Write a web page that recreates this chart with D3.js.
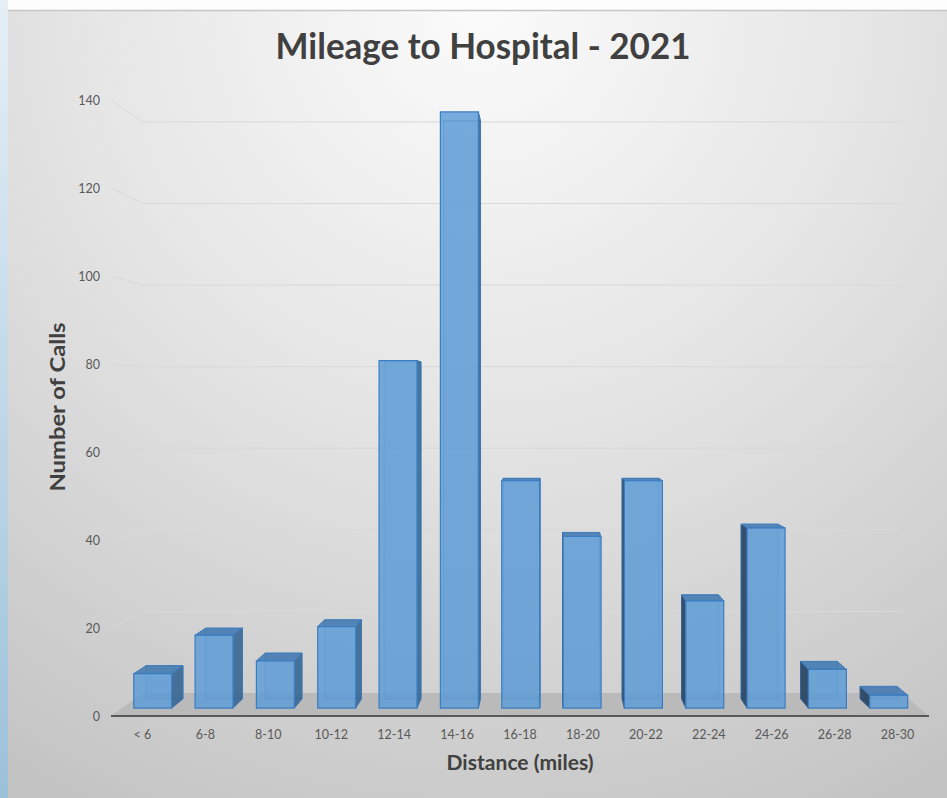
<!DOCTYPE html>
<html>
<head>
<meta charset="utf-8">
<script src="https://cdn.jsdelivr.net/npm/d3@7"></script>
<style>
  html, body { margin: 0; padding: 0; background: #fff; }
  svg { display: block; }
</style>
</head>
<body>
<svg id="chart"></svg>
<script>
const categories = ["< 6", "6-8", "8-10", "10-12", "12-14", "14-16", "16-18",
  "18-20", "20-22", "22-24", "24-26", "26-28", "28-30"];
const calls = [8, 17, 11, 19, 81, 139, 53, 40, 53, 25, 42, 9, 3];
const yTicks = [0, 20, 40, 60, 80, 100, 120, 140];

const width = 947;
const height = 798;

const svg = d3.select("#chart")
  .attr("width", width)
  .attr("height", height)
  .attr("viewBox", `0 0 ${width} ${height}`);

const defs = svg.append("defs");

const bgGrad = defs.append("radialGradient")
  .attr("id", "bg")
  .attr("gradientUnits", "userSpaceOnUse")
  .attr("cx", 480).attr("cy", 10).attr("r", 900);
bgGrad.append("stop").attr("offset", 0).attr("stop-color", "#fbfbfb");
bgGrad.append("stop").attr("offset", 0.45).attr("stop-color", "#e5e5e5");
bgGrad.append("stop").attr("offset", 1).attr("stop-color", "#c3c3c3");

const sideGrad = defs.append("linearGradient")
  .attr("id", "strip")
  .attr("x1", 0).attr("y1", 0).attr("x2", 0).attr("y2", 1);
sideGrad.append("stop").attr("offset", 0).attr("stop-color", "#e6eff6");
sideGrad.append("stop").attr("offset", 1).attr("stop-color", "#9bc1da");

// page pieces around the chart
svg.append("rect").attr("width", width).attr("height", height).attr("fill", "#fdfdfd");
svg.append("rect").attr("x", 0).attr("y", 0).attr("width", 8).attr("height", height)
  .attr("fill", "url(#strip)");
svg.append("rect").attr("x", 8).attr("y", 10).attr("width", width - 8).attr("height", height - 10)
  .attr("fill", "url(#bg)");
svg.append("line").attr("x1", 8).attr("x2", width).attr("y1", 10.5).attr("y2", 10.5)
  .attr("stroke", "#c6c6c6").attr("stroke-width", 1.5);

// front-plane scales
const x = d3.scaleBand()
  .domain(categories)
  .range([111, 929])
  .paddingInner(0.38)
  .paddingOuter(0.19);

const y = d3.scaleLinear()
  .domain([0, 140])
  .range([716, 100]);

// simple perspective: points pulled toward a vanishing point as depth grows
const vx = 549, vy = 401, persp = 0.0787;
function proj(px, py, z) {
  const f = 1 / (1 + persp * z);
  return [vx + f * (px - vx), vy + f * (py - vy)];
}
const poly = (pts) => pts.map((p) => p.join(",")).join(" ");

const x0 = x.range()[0], x1 = x.range()[1];

// floor
svg.append("polygon")
  .attr("points", poly([proj(x0, y(0), 0), proj(x1, y(0), 0), proj(x1, y(0), 1), proj(x0, y(0), 1)]))
  .attr("fill", "#bababa");

// gridlines: left wall diagonal + back wall
const grid = svg.append("g");
yTicks.filter((v) => v > 0).forEach((v) => {
  const a = proj(x0, y(v), 0), b = proj(x0, y(v), 1), c = proj(x1, y(v), 1);
  grid.append("polyline")
    .attr("points", poly([a, b, c]))
    .attr("fill", "none")
    .attr("stroke", "#d9d9d9")
    .attr("stroke-width", 1);
});

// axis line at the floor front edge
svg.append("line")
  .attr("x1", x0).attr("x2", x1).attr("y1", y(0)).attr("y2", y(0))
  .attr("stroke", "#595959").attr("stroke-width", 2);

// bars as transparent boxes
const zFront = 0.33, zBack = 0.73;
const bw = x.bandwidth();
const bars = svg.append("g");

categories.forEach((cat, i) => {
  const xl = x(cat), xr = xl + bw;
  const yb = y(0), yt = y(calls[i]);
  const g = bars.append("g");

  const front = [proj(xl, yt, zFront), proj(xr, yt, zFront), proj(xr, yb, zFront), proj(xl, yb, zFront)];
  const back = [proj(xl, yt, zBack), proj(xr, yt, zBack), proj(xr, yb, zBack), proj(xl, yb, zBack)];
  const top = [front[0], front[1], back[1], back[0]];
  const right = [front[1], back[1], back[2], front[2]];
  const left = [front[0], back[0], back[3], front[3]];

  g.append("polygon").attr("points", poly(back))
    .attr("fill", "#5b9bd5").attr("fill-opacity", 0.15)
    .attr("stroke", "#4a88c8").attr("stroke-opacity", 0.6);

  if (xr < vx) {
    g.append("polygon").attr("points", poly(right))
      .attr("fill", "#30618f").attr("fill-opacity", 0.85)
      .attr("stroke", "#3f78b3").attr("stroke-width", 1);
  }
  if (xl > vx) {
    g.append("polygon").attr("points", poly(left))
      .attr("fill", "#213f5e").attr("fill-opacity", 0.88)
      .attr("stroke", "#345f8c").attr("stroke-width", 1);
  }
  if (yt > vy) {
    g.append("polygon").attr("points", poly(top))
      .attr("fill", "#3f77b0").attr("fill-opacity", 0.85)
      .attr("stroke", "#3e7cbd").attr("stroke-width", 1);
  }
  g.append("polygon").attr("points", poly(front))
    .attr("fill", "#5b9bd5").attr("fill-opacity", 0.82)
    .attr("stroke", "#3b7dc2").attr("stroke-width", 1.2);
});

// y axis labels
const yAxis = svg.append("g")
  .attr("transform", "translate(103,0)")
  .call(d3.axisLeft(y).tickValues(yTicks).tickSize(0).tickPadding(3));
yAxis.select(".domain").remove();
yAxis.selectAll("text")
  .attr("font-family", "Lato, 'Open Sans', sans-serif")
  .attr("font-size", 12.5)
  .attr("fill", "#595959");

// x axis labels
const xAxis = svg.append("g")
  .attr("transform", `translate(0,${y(0)})`)
  .call(d3.axisBottom(x).tickSize(0).tickPadding(14));
xAxis.select(".domain").remove();
xAxis.selectAll("text")
  .attr("font-family", "Lato, 'Open Sans', sans-serif")
  .attr("font-size", 12.5)
  .attr("fill", "#595959");

// titles
svg.append("text")
  .attr("x", 483).attr("y", 59)
  .attr("text-anchor", "middle")
  .attr("font-family", "Lato, 'Open Sans', sans-serif")
  .attr("font-weight", "bold")
  .attr("font-size", 36)
  .attr("fill", "#404040")
  .attr("textLength", 415)
  .attr("lengthAdjust", "spacingAndGlyphs")
  .text("Mileage to Hospital - 2021");

svg.append("text")
  .attr("transform", "translate(65,407) rotate(-90)")
  .attr("text-anchor", "middle")
  .attr("font-family", "Lato, 'Open Sans', sans-serif")
  .attr("font-weight", "bold")
  .attr("font-size", 21)
  .attr("fill", "#404040")
  .attr("textLength", 169)
  .attr("lengthAdjust", "spacingAndGlyphs")
  .text("Number of Calls");

svg.append("text")
  .attr("x", 520).attr("y", 770)
  .attr("text-anchor", "middle")
  .attr("font-family", "Lato, 'Open Sans', sans-serif")
  .attr("font-weight", "bold")
  .attr("font-size", 21)
  .attr("fill", "#404040")
  .attr("textLength", 147)
  .attr("lengthAdjust", "spacingAndGlyphs")
  .text("Distance (miles)");
</script>
</body>
</html>
